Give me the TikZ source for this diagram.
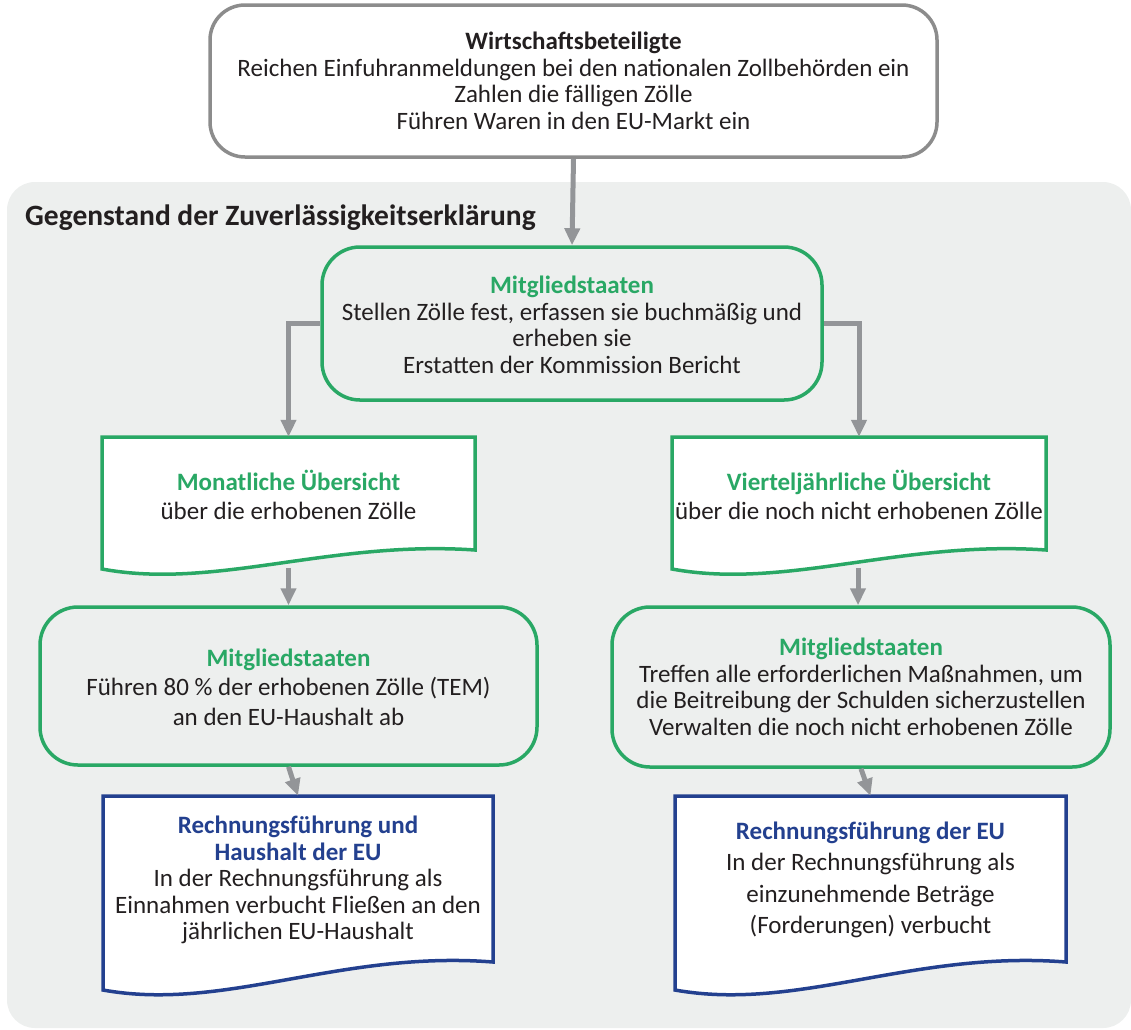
\documentclass[tikz,border=0pt]{standalone}
\usepackage{fontspec}
\setmainfont{Carlito}
\usetikzlibrary{arrows.meta}
\definecolor{gGreen}{RGB}{41,168,101}
\definecolor{gBlue}{RGB}{35,64,143}
\definecolor{gArrow}{RGB}{147,149,152}
\definecolor{gBorder}{RGB}{140,140,140}
\definecolor{gPanel}{RGB}{237,239,238}
\definecolor{gText}{RGB}{35,31,32}
\tikzset{
  body/.style={font=\fontsize{25}{26.5}\selectfont, text=gText, align=center},
  roundbox/.style={rounded corners=38pt, line width=3.5pt, inner sep=0pt},
  greenbox/.style={roundbox, draw=gGreen},
  docline/.style={line width=3.5pt, fill=white, line join=miter},
  flow/.style={draw=gArrow, line width=5pt, -{Triangle[width=15pt,length=17pt]}},
}
\begin{document}
\begin{tikzpicture}[x=1pt,y=-1pt]
\useasboundingbox (0,0) rectangle (1131,1029);
% panel
\fill[gPanel, rounded corners=28pt] (7,182) rectangle (1131,1028);
\node[anchor=west, inner sep=0pt, font=\fontsize{29.5}{32}\selectfont\bfseries, text=gText] (paneltitle) at (25,218) {Gegenstand der Zuverlässigkeitserklärung};

% top box
\node[roundbox, draw=gBorder, fill=white, minimum width=727pt, minimum height=152pt, rounded corners=35pt] (top) at (573.5,81) {};
\node[body] (toptext) at (573.5,81) {\textbf{Wirtschaftsbeteiligte}\\Reichen Einfuhranmeldungen bei den nationalen Zollbehörden ein\\Zahlen die fälligen Zölle\\Führen Waren in den EU-Markt ein};

% Mitgliedstaaten 1
\node[greenbox, minimum width=500pt, minimum height=153pt] (m1) at (572,323.5) {};
\node[body] (m1text) at (572,325) {{\color{gGreen}\textbf{Mitgliedstaaten}}\\Stellen Zölle fest, erfassen sie buchmäßig und\\erheben sie\\Erstatten der Kommission Bericht};

% document left (green)
\node[minimum width=373pt, minimum height=114pt, inner sep=0pt] (docL) at (288.5,494) {};
\draw[docline, draw=gGreen] (102,437) -- (475,437) -- (475,550) .. controls (330,540) and (215,590) .. (102,569) -- cycle;
\node[body] (docLtext) at (288.5,495) {{\color{gGreen}\textbf{Monatliche Übersicht}}\\[3pt]über die erhobenen Zölle};
\coordinate (docLb) at (288.5,568);

% document right (green)
\node[minimum width=374pt, minimum height=114pt, inner sep=0pt] (docR) at (859,494) {};
\draw[docline, draw=gGreen] (672,437) -- (1046,437) -- (1046,550) .. controls (901,540) and (786,590) .. (672,569) -- cycle;
\node[body] (docRtext) at (859,495) {{\color{gGreen}\textbf{Vierteljährliche Übersicht}}\\[3pt]über die noch nicht erhobenen Zölle};
\coordinate (docRb) at (858,568);

% Mitgliedstaaten 2 left
\node[greenbox, minimum width=497pt, minimum height=158pt] (m2L) at (288.5,686) {};
\node[body] (m2Ltext) at (288.5,687) {{\color{gGreen}\textbf{Mitgliedstaaten}}\\[3pt]Führen 80 \% der erhobenen Zölle (TEM)\\[3pt]an den EU-Haushalt ab};

% Mitgliedstaaten 2 right
\node[greenbox, minimum width=498pt, minimum height=160pt] (m2R) at (861,687) {};
\node[body] (m2Rtext) at (861,687) {{\color{gGreen}\textbf{Mitgliedstaaten}}\\Treffen alle erforderlichen Maßnahmen, um\\die Beitreibung der Schulden sicherzustellen\\Verwalten die noch nicht erhobenen Zölle};

% blue document left
\node[minimum width=390pt, minimum height=166pt, inner sep=0pt] (blueL) at (298,879) {};
\draw[docline, draw=gBlue] (103,796) -- (493,796) -- (493,962) .. controls (340,950) and (225,1012) .. (103,990) -- cycle;
\node[body] (blueLtext) at (298,880) {{\color{gBlue}\textbf{Rechnungsführung und}}\\{\color{gBlue}\textbf{Haushalt der EU}}\\In der Rechnungsführung als\\Einnahmen verbucht Fließen an den\\jährlichen EU-Haushalt};

% blue document right
\node[minimum width=391pt, minimum height=166pt, inner sep=0pt] (blueR) at (870.5,879) {};
\draw[docline, draw=gBlue] (675,796) -- (1066,796) -- (1066,962) .. controls (913,950) and (798,1012) .. (675,990) -- cycle;
\node[body] (blueRtext) at (870.5,880) {{\color{gBlue}\textbf{Rechnungsführung der EU}}\\[5pt]In der Rechnungsführung als\\[5pt]einzunehmende Beträge\\[5pt](Forderungen) verbucht};

% connectors
\draw[flow] (top.south) -- (m1.north);
\draw[flow] (m1.west) -| (docL.north);
\draw[flow] (m1.east) -| (docR.north);
\draw[flow] (docLb) -- (docLb |- m2L.north);
\draw[flow] (docRb) -- (docRb |- m2R.north);
\draw[flow] (m2L.south) -- (blueL.north);
\draw[flow] (m2R.south) -- (blueR.north);
\end{tikzpicture}
\end{document}
